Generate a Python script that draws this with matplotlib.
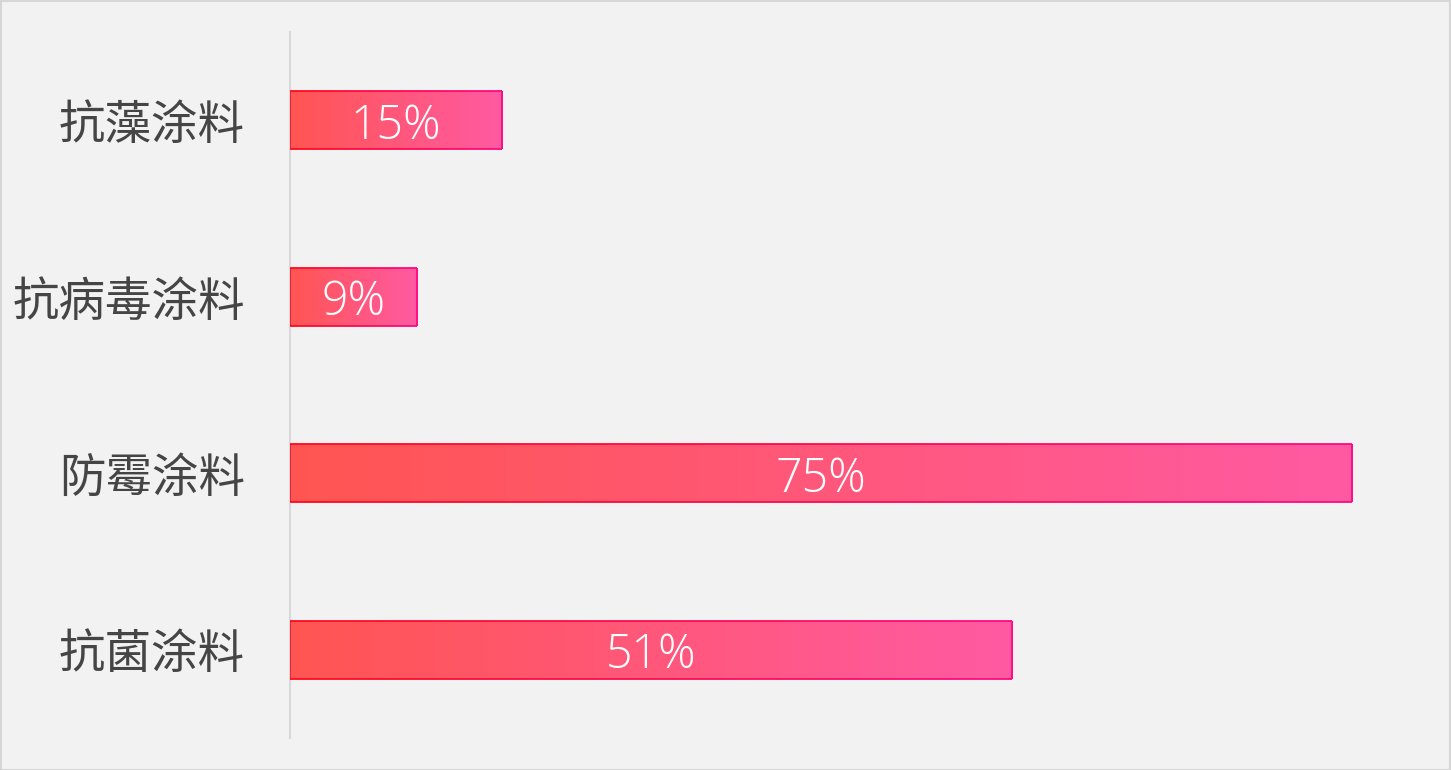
import numpy as np
import matplotlib.pyplot as plt
from matplotlib.patches import Rectangle
from matplotlib.collections import LineCollection
from matplotlib.colors import LinearSegmentedColormap

categories = ['抗藻涂料', '抗病毒涂料', '防霉涂料', '抗菌涂料']
shares = [15, 9, 75, 51]
value_labels = ['15%', '9%', '75%', '51%']

plt.rcParams['font.family'] = ['Noto Sans CJK SC', 'DejaVu Sans']

W, H = 1451, 770
fig = plt.figure(figsize=(W / 100, H / 100), dpi=100, facecolor='#f2f2f2')
ax = fig.add_axes([290 / W, 32 / H, 1130 / W, 706 / H])
ax.set_facecolor('#f2f2f2')

# outer frame of the picture
fig.patches.append(Rectangle((0.5 / W, 0.5 / H), 1 - 1.5 / W, 1 - 1.5 / H,
                             transform=fig.transFigure, fill=False,
                             edgecolor='#d6d6d6', lw=1.5))

px_per_pct = (1352 - 290) / 75
ax.set_xlim(0, 1130 / px_per_pct)
ax.set_ylim(3.5, -0.5)

fill_cmap = LinearSegmentedColormap.from_list('fill', ['#ff5552', '#ff5aa3'])
edge_cmap = LinearSegmentedColormap.from_list('edge', ['#ff0a1e', '#ff0a82'])
grad = np.linspace(0, 1, 256).reshape(1, -1)
bh = 0.33

for i, v in enumerate(shares):
    y0, y1 = i - bh / 2, i + bh / 2
    im = ax.imshow(grad, cmap=fill_cmap, aspect='auto', extent=(0, v, y1, y0), zorder=2)
    clip = Rectangle((0, y0), v, bh, transform=ax.transData)
    im.set_clip_path(clip)
    # gradient outline
    xs = np.linspace(0, v, 60)
    segs = []
    cols = []
    for yy in (y0, y1):
        for a, b in zip(xs[:-1], xs[1:]):
            segs.append([(a, yy), (b, yy)])
            cols.append(edge_cmap((a + b) / 2 / v))
    segs.append([(0, y0), (0, y1)])
    cols.append(edge_cmap(0.0))
    segs.append([(v, y0), (v, y1)])
    cols.append(edge_cmap(1.0))
    ax.add_collection(LineCollection(segs, colors=cols, linewidths=1.3, zorder=3))
    ax.text(v / 2, i + 0.035, value_labels[i], ha='center', va='center', color='white',
            fontsize=33.5, family=['Open Sans', 'DejaVu Sans'], fontweight='light', zorder=4)

ax.set_yticks(range(len(categories)))
ax.set_yticklabels(categories, fontsize=33.5, color='#454545', fontweight='light')
ax.tick_params(axis='y', length=0, pad=32.4)
ax.set_xticks([])
for side in ('top', 'right', 'bottom'):
    ax.spines[side].set_visible(False)
ax.spines['left'].set_color('#d9d9d9')
ax.spines['left'].set_linewidth(1.5)

fig.savefig('out.png', dpi=100, facecolor=fig.get_facecolor())
